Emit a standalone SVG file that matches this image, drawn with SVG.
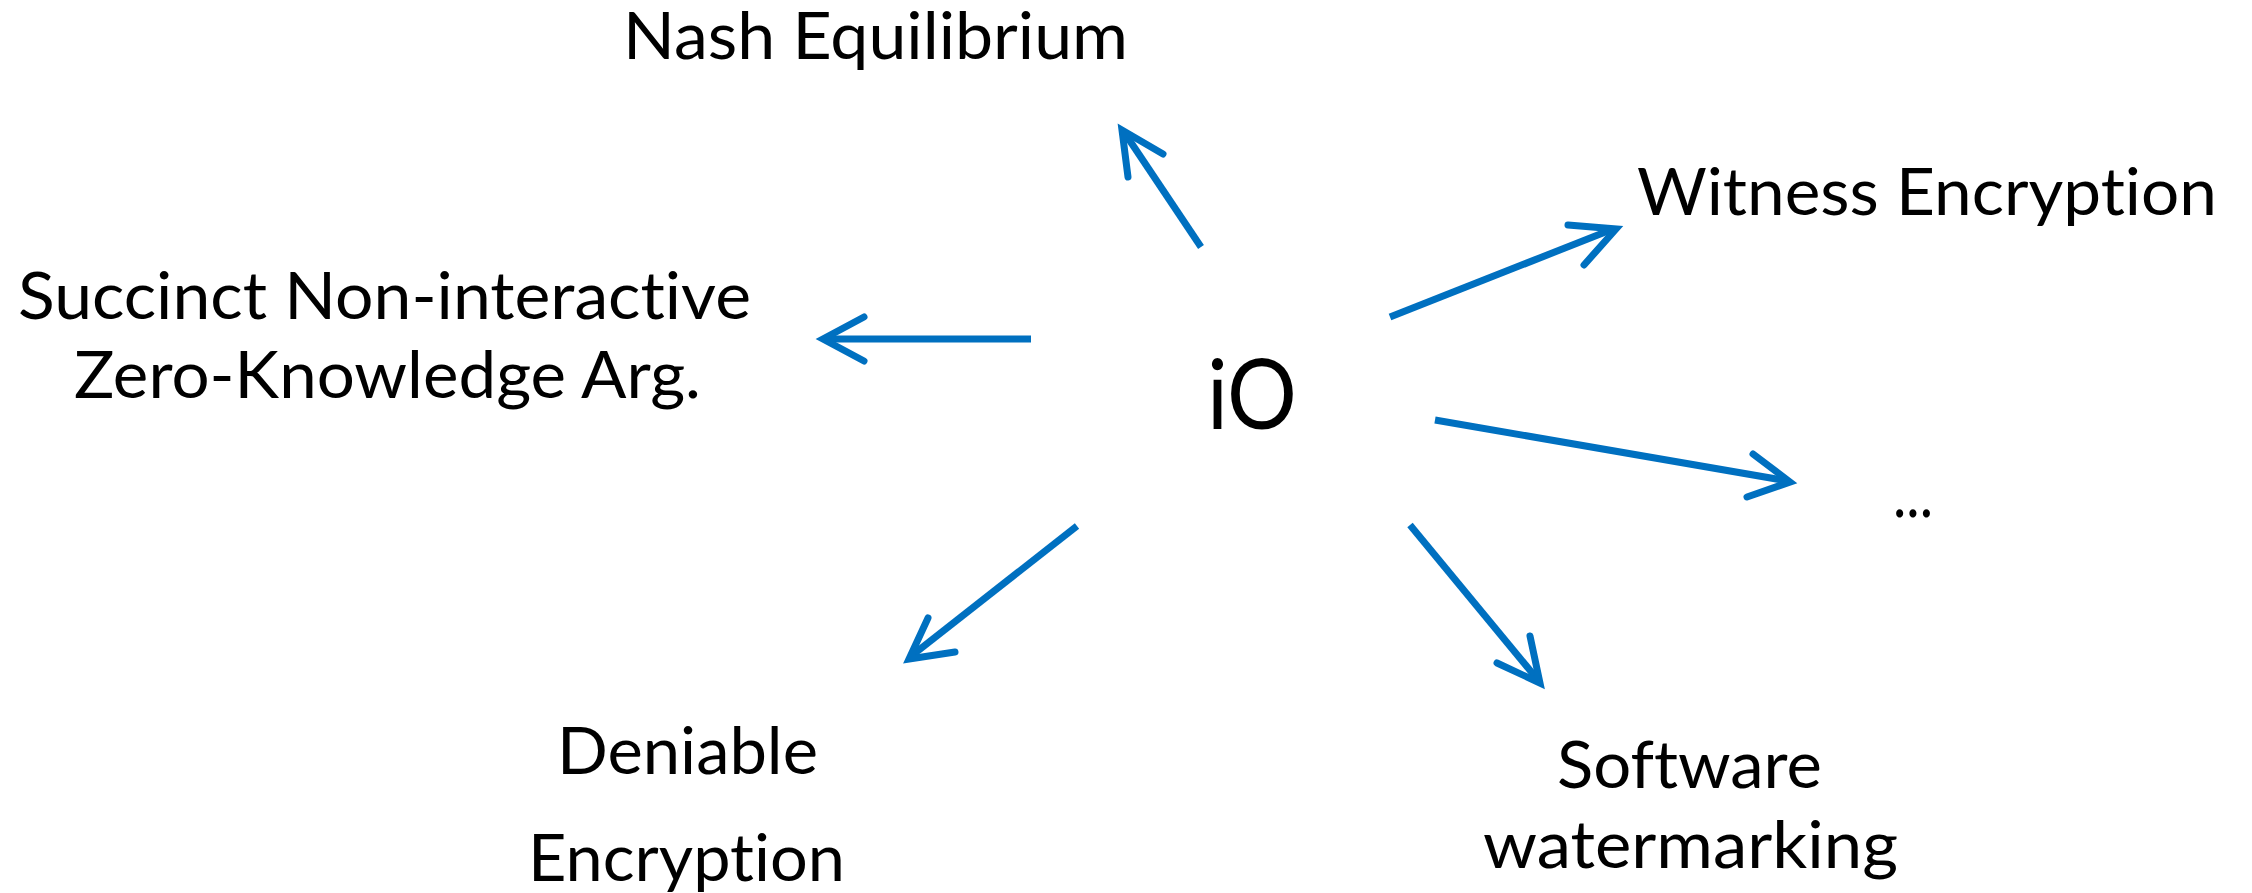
<svg xmlns="http://www.w3.org/2000/svg" width="2252" height="893" viewBox="0 0 2252 893">
<style>
text{font-family:Lato,"Open Sans","Liberation Sans",sans-serif;fill:#000;font-size:66px;font-variant-ligatures:none;font-feature-settings:"liga" 0}
.big{font-size:96px}
.ln{stroke:#0070C0;stroke-width:7;fill:none;stroke-linecap:butt}
.hd{stroke:#0070C0;stroke-width:7;fill:none;stroke-linecap:round;stroke-linejoin:miter;stroke-miterlimit:10}
</style>
<rect width="2252" height="893" fill="#fff"/>
<g id="connectors">
<line class="ln" x1="1201" y1="247" x2="1124" y2="132"/>
<polyline class="hd" points="1163,154 1122,130 1128,177"/>
<line class="ln" x1="1390" y1="317" x2="1613" y2="229"/>
<polyline class="hd" points="1568,225 1616,229 1584,265"/>
<line class="ln" x1="1031" y1="339" x2="823" y2="339"/>
<polyline class="hd" points="864,317 823,339 864,361"/>
<line class="ln" x1="1435" y1="420" x2="1788" y2="481"/>
<polyline class="hd" points="1753,454 1790,482 1747,497"/>
<line class="ln" x1="1410" y1="525" x2="1538" y2="680"/>
<polyline class="hd" points="1530,636 1540,683 1497,663"/>
<line class="ln" x1="1077" y1="526" x2="910" y2="657"/>
<polyline class="hd" points="928,618 909,659 955,652"/>
</g>
<g id="node-io"><text class="big" x="1207" y="429" textLength="90" lengthAdjust="spacingAndGlyphs">iO</text></g>
<g id="node-nash"><text x="623" y="59" textLength="505" lengthAdjust="spacingAndGlyphs">Nash Equilibrium</text></g>
<g id="node-witness"><text x="1637" y="215" textLength="580" lengthAdjust="spacingAndGlyphs">Witness Encryption</text></g>
<g id="node-snark"><text x="18" y="319" textLength="733" lengthAdjust="spacingAndGlyphs">Succinct Non-interactive</text><text x="74" y="398" textLength="627" lengthAdjust="spacingAndGlyphs">Zero-Knowledge Arg.</text></g>
<g id="node-more"><text x="1893" y="517" textLength="40" lengthAdjust="spacingAndGlyphs">...</text></g>
<g id="node-deniable"><text x="557" y="774" textLength="261" lengthAdjust="spacingAndGlyphs">Deniable</text><text x="528" y="881" textLength="317" lengthAdjust="spacingAndGlyphs">Encryption</text></g>
<g id="node-watermark"><text x="1557" y="788" textLength="265" lengthAdjust="spacingAndGlyphs">Software</text><text x="1483" y="868" textLength="415" lengthAdjust="spacingAndGlyphs">watermarking</text></g>
</svg>
